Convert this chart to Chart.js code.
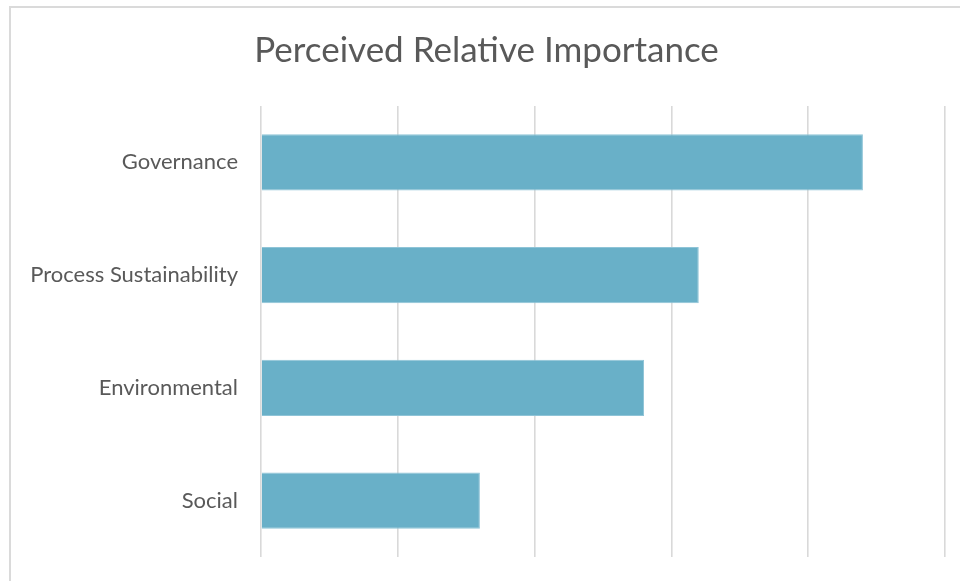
<!DOCTYPE html>
<html lang="en">
<head>
    <meta charset="UTF-8">
    <title>Perceived Relative Importance</title>
    <script src="https://cdn.jsdelivr.net/npm/chart.js"></script>
    <style>
        body {
            margin: 0;
            padding: 0;
            background: #ffffff;
            overflow: hidden;
        }

        /* canvas + the thin grey frame Excel leaves around the chart */
        .wrap {
            position: relative;
            width: 960px;
            height: 581px;
        }
        .frame {
            position: absolute;
            left: 9px;
            top: 6px;
            width: 1000px;
            height: 700px;
            border-left: 2px solid #dadada;
            border-top: 2px solid #dadada;
            pointer-events: none;
        }
        .chart-box {
            position: absolute;
            left: 0;
            top: 0;
            width: 960px;
            height: 581px;
        }
    </style>
</head>
<body>

    <div class="wrap">
        <div class="chart-box">
            <canvas id="importanceChart"></canvas>
        </div>
        <div class="frame"></div>
    </div>

    <script>
        // data
        const categories = ['Governance', 'Process Sustainability', 'Environmental', 'Social'];
        const importance = [4.4, 3.2, 2.8, 1.6];
        const axisMin = 0;
        const axisMax = 5;
        const axisStep = 1;

        const textGrey = '#595959';
        const fontFamily = "Lato, 'Open Sans', sans-serif";

        const ctx = document.getElementById('importanceChart').getContext('2d');
        const chart = new Chart(ctx, {
            type: 'bar',
            data: {
                labels: categories,
                datasets: [{
                    label: 'Importance',
                    data: importance,
                    backgroundColor: '#69b0c8',
                    borderColor: '#8fc4d7',
                    borderWidth: 1,
                    barPercentage: 0.5,
                    categoryPercentage: 1.0
                }]
            },
            options: {
                indexAxis: 'y',
                responsive: true,
                maintainAspectRatio: false,
                animation: false,
                layout: {
                    autoPadding: false,
                    padding: { left: 28, right: 15, top: 0, bottom: 24 }
                },
                plugins: {
                    legend: { display: false },
                    tooltip: { enabled: false },
                    title: {
                        display: true,
                        text: 'Perceived Relative Importance',
                        color: textGrey,
                        font: { family: fontFamily, size: 35, weight: 'normal' },
                        padding: { top: 30, bottom: 34 }
                    }
                },
                scales: {
                    x: {
                        min: axisMin,
                        max: axisMax,
                        ticks: { display: false, stepSize: axisStep },
                        grid: { color: '#d9d9d9', lineWidth: 1.6, drawTicks: false },
                        border: { display: false }
                    },
                    y: {
                        grid: { display: false, drawTicks: false },
                        border: { display: false },
                        ticks: {
                            color: textGrey,
                            padding: 23,
                            font: { family: fontFamily, size: 22 }
                        },
                        // left edge of the plot sits at x = 261; the tick padding
                        // was also eating 36px under the plot, so drop it
                        afterFit: function(scale) {
                            scale.width = 233;
                            scale.paddingTop = 0;
                            scale.paddingBottom = 0;
                        }
                    }
                }
            }
        });
    </script>

</body>
</html>
